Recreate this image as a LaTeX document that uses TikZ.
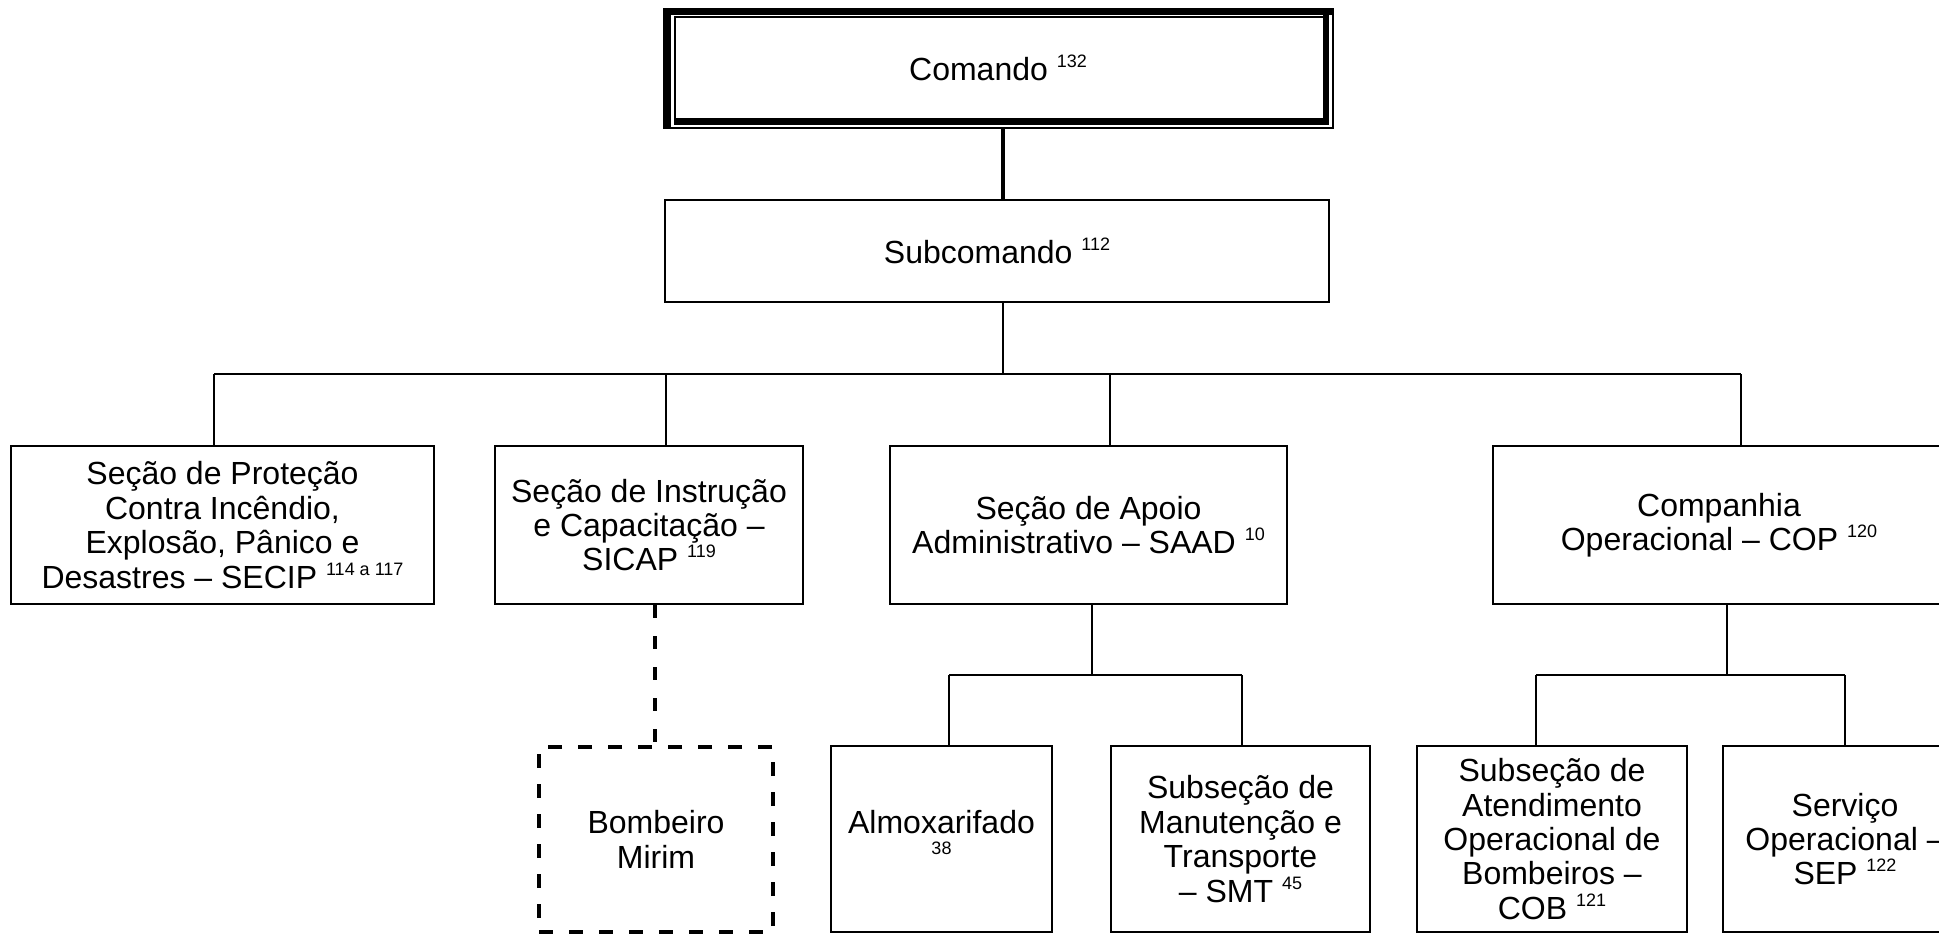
\documentclass[tikz,border=0pt]{standalone}
\usepackage{fontspec}
\setmainfont{Liberation Sans}
% raised, reduced reference numbers after a unit name
\newcommand{\sps}[1]{\raisebox{6.5pt}{\fontsize{9}{9}\selectfont #1}}
\begin{document}
\begin{tikzpicture}[x=0.5pt,y=-0.5pt,
  unit/.style={draw, line width=1pt, rectangle, inner sep=0pt, align=center,
    font=\fontsize{16}{17.2}\selectfont},
  plain/.style={unit, draw=none},
  dashunit/.style={unit, line width=2pt, dash pattern=on 7pt off 8pt},
  link/.style={line width=1pt},
  dashlink/.style={line width=2pt, dash pattern=on 6.5pt off 9pt},
  boldlink/.style={line width=1.8pt}]
\path[use as bounding box] (0,0) rectangle (1939,934);
\clip (0,0) rectangle (1939,934);

% ---- Comando with its framed border
\node[plain, minimum width=335pt, minimum height=60pt] (cmd) at (998,68) {Comando \sps{132}};
\fill (663,8) rectangle (1333,15);
\fill (663,8) rectangle (671,128);
\draw[line width=1pt] (664,9) rectangle (1332.5,127.5);
\draw[line width=1pt] (674.5,16.5) rectangle (1326,122);
\fill (674,118) rectangle (1329,125);
\fill (1323,15) rectangle (1329,125);

% ---- Subcomando
\node[unit, minimum width=332pt, minimum height=51pt] (sub) at (997,251) {Subcomando \sps{112}};

% ---- sections
\node[unit, minimum width=211.5pt, minimum height=79pt] (secip) at (222.5,525)
  {Seção de Proteção\\Contra Incêndio,\\Explosão, Pânico e\\Desastres – SECIP \sps{114 a 117}};
\node[unit, minimum width=154pt, minimum height=79pt] (sicap) at (649,525)
  {Seção de Instrução\\e Capacitação –\\SICAP \sps{119}};
\node[unit, minimum width=198.5pt, minimum height=79pt] (saad) at (1088.5,525)
  {Seção de Apoio\\Administrativo – SAAD \sps{10}};
\node[unit, minimum width=226pt, minimum height=79pt] (cop) at (1719,525)
  {Companhia\\Operacional – COP \sps{120}};

% ---- lower units
\node[dashunit, minimum width=117pt, minimum height=92.5pt] (bomb) at (656,839.5)
  {Bombeiro\\Mirim};
\node[unit, minimum width=110.5pt, minimum height=93pt] (almox) at (941.5,839)
  {Almoxarifado\\\sps{38}};
\node[unit, minimum width=129.5pt, minimum height=93pt] (smt) at (1240.5,839)
  {Subseção de\\Manutenção e\\Transporte\\– SMT \sps{45}};
\node[unit, minimum width=135pt, minimum height=93pt] (cob) at (1552,839)
  {Subseção de\\Atendimento\\Operacional de\\Bombeiros –\\COB \sps{121}};
\node[unit, minimum width=122pt, minimum height=93pt] (sep) at (1845,839)
  {Serviço\\Operacional –\\SEP \sps{122}};

% ---- junction points of the tree lines
\coordinate (top) at (1003,374);
\coordinate (d1) at (214,374);
\coordinate (d2) at (666,374);
\coordinate (d3) at (1110,374);
\coordinate (d4) at (1741,374);
\coordinate (sa) at (1092,675);
\coordinate (sa1) at (949,675);
\coordinate (sa2) at (1242,675);
\coordinate (co) at (1727,675);
\coordinate (co1) at (1536,675);
\coordinate (co2) at (1845,675);
\coordinate (dm) at (655,0);

% ---- connectors
\draw[boldlink] (cmd.south -| top) -- (sub.north -| top);
\draw[link] (sub.south -| top) -- (top);
\draw[link] (d1) -- (d4);
\draw[link] (d1) -- (secip.north -| d1);
\draw[link] (d2) -- (sicap.north -| d2);
\draw[link] (d3) -- (saad.north -| d3);
\draw[link] (d4) -- (cop.north -| d4);

\draw[dashlink] (sicap.south -| dm) -- (bomb.north -| dm);

\draw[link] (saad.south -| sa) -- (sa);
\draw[link] (sa1) -- (sa2);
\draw[link] (sa1) -- (almox.north -| sa1);
\draw[link] (sa2) -- (smt.north -| sa2);

\draw[link] (cop.south -| co) -- (co);
\draw[link] (co1) -- (co2);
\draw[link] (co1) -- (cob.north -| co1);
\draw[link] (co2) -- (sep.north -| co2);
\end{tikzpicture}
\end{document}
